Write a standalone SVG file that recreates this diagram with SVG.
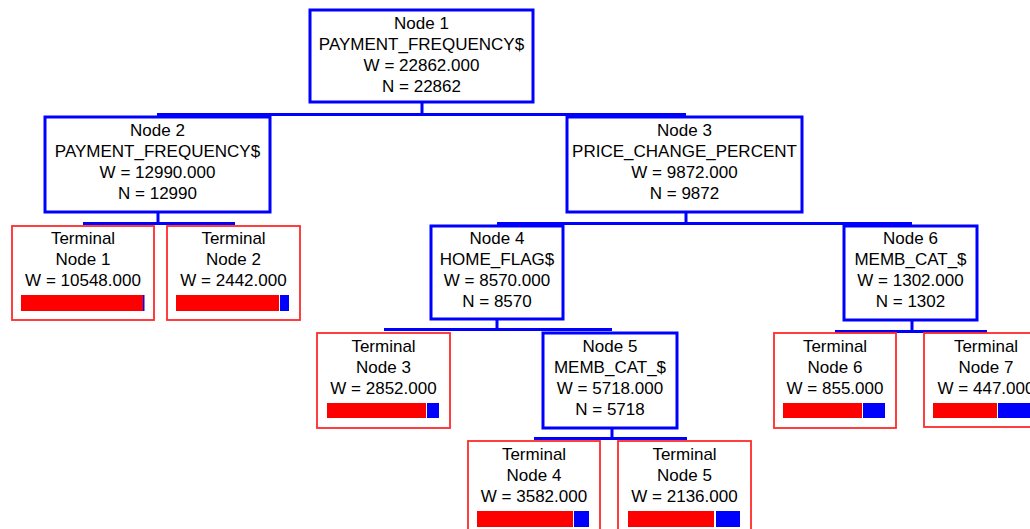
<svg xmlns="http://www.w3.org/2000/svg" width="1030" height="529" viewBox="0 0 1030 529">
<style>
.n{fill:#fff;stroke:#0000ff;stroke-width:3}
.t{fill:#fff;stroke:#ff2a2a;stroke-width:1.8}
text{font-family:"Liberation Sans",Arial,sans-serif;font-size:17px;fill:#000;text-anchor:middle}
.r{fill:#ff0000}
.b{fill:#0000ff}
.c{stroke:#0000ff;stroke-width:3;fill:none}
</style>
<rect width="1030" height="529" fill="#fff"/>
<g id="connectors">
<path class="c" d="M422 102V114.5M157 114.5H686M158 212V223.5M83 223.5H235M686 212V223.5M497 223.5H912M497 319V329.5M384 329.5H612M612 428V438.5M534 438.5H687M912 320V331.5M835 331.5H987"/>
</g>
<g id="node1">
<rect class="n" x="310" y="10" width="223" height="92"/>
<text x="421.5" y="29">Node 1</text>
<text x="421.5" y="50">PAYMENT_FREQUENCY$</text>
<text x="421.5" y="71">W = 22862.000</text>
<text x="421.5" y="92">N = 22862</text>
</g>
<g id="node2">
<rect class="n" x="45" y="117" width="225" height="95"/>
<text x="157.5" y="136">Node 2</text>
<text x="157.5" y="157">PAYMENT_FREQUENCY$</text>
<text x="157.5" y="178">W = 12990.000</text>
<text x="157.5" y="199">N = 12990</text>
</g>
<g id="node3">
<rect class="n" x="567" y="117" width="235" height="95"/>
<text x="684.5" y="136">Node 3</text>
<text x="684.5" y="157">PRICE_CHANGE_PERCENT</text>
<text x="684.5" y="178">W = 9872.000</text>
<text x="684.5" y="199">N = 9872</text>
</g>
<g id="terminal1">
<rect class="t" x="12" y="226" width="142" height="94"/>
<text x="83" y="244">Terminal</text>
<text x="83" y="265">Node 1</text>
<text x="83" y="286">W = 10548.000</text>
<rect class="r" x="21" y="295" width="122" height="16"/>
<rect class="b" x="143" y="295" width="1.5" height="16"/>
</g>
<g id="terminal2">
<rect class="t" x="167" y="226" width="133" height="94"/>
<text x="233.5" y="244">Terminal</text>
<text x="233.5" y="265">Node 2</text>
<text x="233.5" y="286">W = 2442.000</text>
<rect class="r" x="176" y="295" width="103" height="16"/>
<rect class="b" x="280" y="295" width="9" height="16"/>
</g>
<g id="node4">
<rect class="n" x="431" y="226" width="132" height="93"/>
<text x="497" y="244">Node 4</text>
<text x="497" y="265">HOME_FLAG$</text>
<text x="497" y="286">W = 8570.000</text>
<text x="497" y="307">N = 8570</text>
</g>
<g id="node6">
<rect class="n" x="844" y="226" width="133" height="94"/>
<text x="910.5" y="244">Node 6</text>
<text x="910.5" y="265">MEMB_CAT_$</text>
<text x="910.5" y="286">W = 1302.000</text>
<text x="910.5" y="307">N = 1302</text>
</g>
<g id="terminal3">
<rect class="t" x="317" y="333" width="133" height="95"/>
<text x="383.5" y="352">Terminal</text>
<text x="383.5" y="373">Node 3</text>
<text x="383.5" y="394">W = 2852.000</text>
<rect class="r" x="327" y="403" width="99" height="15"/>
<rect class="b" x="427" y="403" width="12" height="15"/>
</g>
<g id="node5">
<rect class="n" x="543" y="333" width="134" height="95"/>
<text x="610" y="352">Node 5</text>
<text x="610" y="373">MEMB_CAT_$</text>
<text x="610" y="394">W = 5718.000</text>
<text x="610" y="415">N = 5718</text>
</g>
<g id="terminal6">
<rect class="t" x="774" y="333" width="122" height="95"/>
<text x="835" y="352">Terminal</text>
<text x="835" y="373">Node 6</text>
<text x="835" y="394">W = 855.000</text>
<rect class="r" x="783" y="403" width="79" height="15"/>
<rect class="b" x="863" y="403" width="22" height="15"/>
</g>
<g id="terminal7">
<rect class="t" x="924" y="333" width="124" height="94"/>
<text x="986" y="352">Terminal</text>
<text x="986" y="373">Node 7</text>
<text x="986" y="394">W = 447.000</text>
<rect class="r" x="933" y="403" width="64" height="15"/>
<rect class="b" x="998" y="403" width="40" height="15"/>
</g>
<g id="terminal4">
<rect class="t" x="468" y="441" width="132" height="95"/>
<text x="534" y="460">Terminal</text>
<text x="534" y="481">Node 4</text>
<text x="534" y="502">W = 3582.000</text>
<rect class="r" x="477" y="511" width="96" height="16"/>
<rect class="b" x="574" y="511" width="15" height="16"/>
</g>
<g id="terminal5">
<rect class="t" x="618" y="441" width="133" height="95"/>
<text x="684.5" y="460">Terminal</text>
<text x="684.5" y="481">Node 5</text>
<text x="684.5" y="502">W = 2136.000</text>
<rect class="r" x="628" y="511" width="86" height="16"/>
<rect class="b" x="716" y="511" width="24" height="16"/>
</g>
</svg>
